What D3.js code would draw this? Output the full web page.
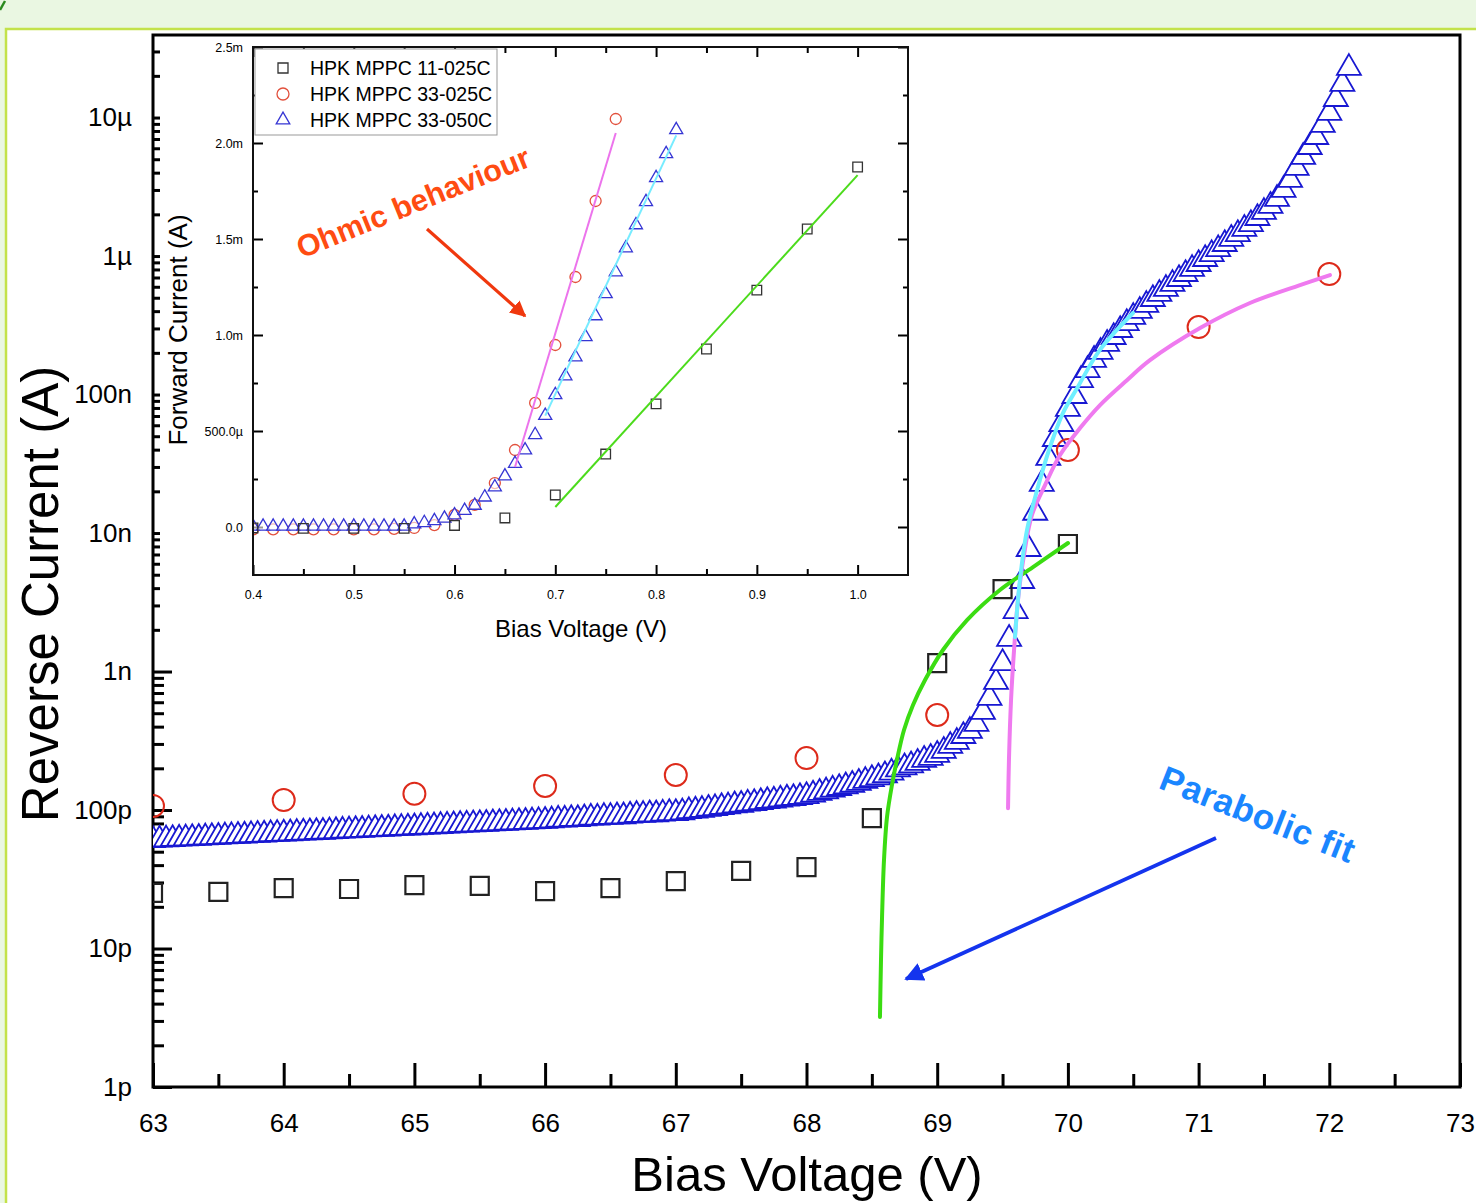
<!DOCTYPE html>
<html>
<head>
<meta charset="utf-8">
<script src="https://cdn.jsdelivr.net/npm/d3@7.9.0/dist/d3.min.js"></script>
<style>
  body { margin: 0; background: #fff; }
  svg { display: block; font-family: "Liberation Sans", Arial, sans-serif; }
</style>
</head>
<body>
<svg id="chart" width="1476" height="1203"></svg>
<script>
// ---------- main plot data (reverse bias) ----------
const sqVolts = [63, 63.5, 64, 64.5, 65, 65.5, 66, 66.5, 67, 67.5, 68, 68.5, 69, 69.5, 70];
const sqCurrent = [2.52e-11, 2.56e-11, 2.73e-11, 2.69e-11, 2.87e-11, 2.83e-11, 2.60e-11, 2.73e-11,
  3.07e-11, 3.63e-11, 3.87e-11, 8.75e-11, 1.15e-9, 3.94e-9, 8.33e-9];

const circVolts = [63, 64, 65, 66, 67, 68, 69, 70, 71, 72];
const circCurrent = [1.07e-10, 1.18e-10, 1.31e-10, 1.49e-10, 1.79e-10, 2.37e-10, 4.85e-10, 3.97e-8, 3.07e-7, 7.41e-7];

// 33-050C measured every 0.05 V from 63.00 V to 72.15 V
const triCurrent = [
  60.7e-12, 61.0e-12, 61.3e-12, 61.7e-12, 62.0e-12, 62.3e-12, 62.7e-12, 63.0e-12, 63.3e-12, 63.7e-12,
  64.0e-12, 64.4e-12, 64.7e-12, 65.0e-12, 65.4e-12, 65.7e-12, 66.1e-12, 66.4e-12, 66.8e-12, 67.1e-12,
  67.5e-12, 67.8e-12, 68.2e-12, 68.6e-12, 68.9e-12, 69.3e-12, 69.6e-12, 70.0e-12, 70.4e-12, 70.8e-12,
  71.1e-12, 71.5e-12, 71.9e-12, 72.3e-12, 72.7e-12, 73.1e-12, 73.4e-12, 73.8e-12, 74.2e-12, 74.6e-12,
  75.0e-12, 75.4e-12, 75.8e-12, 76.2e-12, 76.6e-12, 77.0e-12, 77.4e-12, 77.9e-12, 78.3e-12, 78.7e-12,
  79.1e-12, 79.5e-12, 80.0e-12, 80.4e-12, 80.8e-12, 81.3e-12, 81.7e-12, 82.1e-12, 82.6e-12, 83.0e-12,
  83.4e-12,
  84e-12, 85e-12, 85e-12, 86e-12, 86e-12, 87e-12, 88e-12, 88e-12, 89e-12, 89e-12,
  90e-12, 90e-12, 91e-12, 92e-12, 92e-12, 93e-12, 93e-12, 94e-12, 95e-12, 95e-12,
  96e-12, 98e-12, 99e-12, 100e-12, 102e-12, 103e-12, 105e-12, 106e-12, 108e-12, 109e-12,
  111e-12, 112e-12, 114e-12, 116e-12, 117e-12, 119e-12, 121e-12, 122e-12, 124e-12, 126e-12,
  129e-12, 133e-12, 136e-12, 140e-12, 144e-12, 148e-12, 152e-12, 157e-12, 162e-12, 167e-12,
  172e-12, 178e-12, 186e-12, 196e-12, 203e-12, 210e-12, 219e-12, 230e-12, 238e-12, 250e-12,
  267e-12, 290e-12, 310e-12, 342e-12, 372e-12, 418e-12, 510e-12, 644e-12, 840e-12, 1.15e-9,
  1.72e-9, 2.73e-9, 4.50e-9, 7.66e-9, 1.40e-8, 2.26e-8, 3.48e-8, 4.77e-8, 6.12e-8, 7.86e-8,
  9.75e-8, 1.27e-7, 1.50e-7, 1.78e-7, 2.03e-7, 2.32e-7, 2.60e-7, 2.92e-7, 3.28e-7, 3.63e-7,
  4.01e-7, 4.43e-7, 4.89e-7, 5.32e-7, 5.78e-7, 6.28e-7, 6.82e-7, 7.41e-7, 8.06e-7, 8.75e-7,
  9.51e-7, 1.03e-6, 1.12e-6, 1.22e-6, 1.33e-6, 1.44e-6, 1.57e-6, 1.70e-6, 1.88e-6, 2.08e-6,
  2.30e-6, 2.58e-6, 3.00e-6, 3.54e-6, 4.32e-6, 5.19e-6, 6.12e-6, 7.23e-6, 8.83e-6, 1.08e-5,
  1.36e-5, 1.75e-5, 2.28e-5
];
const triVolts = d3.range(triCurrent.length).map(i => +(63 + i * 0.05).toFixed(2));

// parabolic fits, points [V, A]
const fitGreen = [[68.562, 3.2e-12], [68.570, 8.26e-12], [68.578, 1.69e-11], [68.593, 4.36e-11],
  [68.616, 8.9e-11], [68.654, 1.52e-10], [68.692, 2.3e-10], [68.746, 3.78e-10], [68.815, 5.73e-10],
  [68.907, 8.68e-10], [69.044, 1.43e-9], [69.228, 2.35e-9], [69.480, 3.88e-9], [69.733, 5.68e-9],
  [70.001, 8.47e-9]];
const fitPink = [[69.542, 1.03e-10], [69.549, 2.3e-10], [69.565, 6.23e-10], [69.588, 1.43e-9],
  [69.618, 3.28e-9], [69.664, 6.94e-9], [69.725, 1.35e-8], [69.825, 2.22e-8], [69.940, 3.66e-8],
  [70.093, 5.73e-8], [70.246, 8.40e-8], [70.452, 1.27e-7], [70.628, 1.77e-7], [71.011, 3.02e-7],
  [71.393, 4.58e-7], [71.776, 6.17e-7], [72.005, 7.29e-7]];
const fitCyan = [[69.595, 1.77e-9], [69.633, 4.58e-9], [69.687, 1.05e-8], [69.764, 2.04e-8],
  [69.863, 4.18e-8], [69.962, 7.35e-8], [70.070, 1.11e-7], [70.245, 2.10e-7], [70.498, 3.88e-7]];

const xMajor = [63, 64, 65, 66, 67, 68, 69, 70, 71, 72, 73];
const xMinor = [63.5, 64.5, 65.5, 66.5, 67.5, 68.5, 69.5, 70.5, 71.5, 72.5];
const yMajor = [1e-12, 1e-11, 1e-10, 1e-9, 1e-8, 1e-7, 1e-6, 1e-5];
const yLabels = ['1p', '10p', '100p', '1n', '10n', '100n', '1µ', '10µ'];

// ---------- inset data (forward bias, mA) ----------
const inSqVolts = [0.40, 0.45, 0.50, 0.55, 0.60, 0.65, 0.70, 0.75, 0.80, 0.85, 0.90, 0.95, 1.00];
const inSqmA = [-0.005, -0.007, -0.007, -0.007, 0.008, 0.047, 0.167, 0.380, 0.641, 0.927, 1.234, 1.552, 1.875];

const inCircVolts = [0.40, 0.42, 0.44, 0.46, 0.48, 0.50, 0.52, 0.54, 0.56, 0.58, 0.60, 0.62, 0.64, 0.66,
  0.68, 0.70, 0.72, 0.74, 0.76];
const inCircmA = [-0.012, -0.012, -0.012, -0.012, -0.012, -0.012, -0.012, -0.010, -0.005, 0.010, 0.063,
  0.115, 0.229, 0.401, 0.646, 0.948, 1.302, 1.698, 2.125];

const inTriVolts = [0.40, 0.41, 0.42, 0.43, 0.44, 0.45, 0.46, 0.47, 0.48, 0.49, 0.50, 0.51, 0.52, 0.53,
  0.54, 0.55, 0.56, 0.57, 0.58, 0.59, 0.60, 0.61, 0.62, 0.63, 0.64, 0.65, 0.66, 0.67, 0.68, 0.69, 0.70,
  0.71, 0.72, 0.73, 0.74, 0.75, 0.76, 0.77, 0.78, 0.79, 0.80, 0.81, 0.82];
const inTrimA = [0.003, 0.003, 0.003, 0.003, 0.003, 0.003, 0.003, 0.003, 0.003, 0.003, 0.003, 0.003,
  0.003, 0.003, 0.003, 0.003, 0.015, 0.022, 0.032, 0.045, 0.062, 0.085, 0.112, 0.155, 0.208, 0.265,
  0.330, 0.400, 0.480, 0.580, 0.688, 0.786, 0.885, 0.990, 1.099, 1.214, 1.328, 1.453, 1.573, 1.693,
  1.818, 1.943, 2.068];

const inFitPink = [[0.66, 0.3125], [0.76, 2.052]];
const inFitCyan = [[0.69, 0.58], [0.82, 2.04]];
const inFitGreen = [[0.70, 0.104], [1.00, 1.833]];

const inXMajor = [0.4, 0.5, 0.6, 0.7, 0.8, 0.9, 1.0];
const inXMinor = [0.45, 0.55, 0.65, 0.75, 0.85, 0.95];
const inYMajor = [0, 0.5, 1.0, 1.5, 2.0, 2.5];
const inYMinor = [0.25, 0.75, 1.25, 1.75, 2.25];
const inYLabels = ['0.0', '500.0µ', '1.0m', '1.5m', '2.0m', '2.5m'];

const legendNames = ['HPK MPPC 11-025C', 'HPK MPPC 33-025C', 'HPK MPPC 33-050C'];

// ---------- drawing ----------
const svg = d3.select('#chart');

// slide frame
svg.append('rect').attr('x', 0).attr('y', 0).attr('width', 1476).attr('height', 28).attr('fill', '#eaf7e2');
svg.append('rect').attr('x', 0).attr('y', 0).attr('width', 5).attr('height', 1203).attr('fill', '#eaf7e2');
svg.append('path').attr('d', 'M6,1203V29H1476').attr('fill', 'none')
  .attr('stroke', '#c3e24a').attr('stroke-width', 2.5);
svg.append('path').attr('d', 'M0,10L5,1').attr('stroke', '#2b8a1e').attr('stroke-width', 2.5);

const L = 153, R = 1460, T = 35, B = 1087;
const x = d3.scaleLinear().domain([63, 73]).range([L, R]);
const y = d3.scaleLog().domain([1e-12, 3.945e-5]).range([B, T]);

const defs = svg.append('defs');
defs.append('clipPath').attr('id', 'mainClip')
  .append('rect').attr('x', L).attr('y', T).attr('width', R - L).attr('height', B - T);

function styleAxis(g, size, width) {
  g.select('.domain').remove();
  g.selectAll('line').attr('stroke', '#000').attr('stroke-width', width);
  g.selectAll('text').attr('font-size', size).attr('fill', '#000')
    .attr('font-family', '"Liberation Sans", Arial, sans-serif');
}

// main x axis
const gxMin = svg.append('g').attr('transform', `translate(0,${B})`)
  .call(d3.axisBottom(x).tickValues(xMinor).tickSize(-13).tickFormat(''));
styleAxis(gxMin, 26, 3);
const gx = svg.append('g').attr('transform', `translate(0,${B})`)
  .call(d3.axisBottom(x).tickValues(xMajor).tickSize(-24).tickPadding(27).tickFormat(d3.format('d')));
styleAxis(gx, 26, 3);

// main y axis
const yMinor = [];
for (let e = -12; e <= -5; e++) for (let k = 2; k <= 9; k++) {
  const v = k * Math.pow(10, e);
  if (v < y.domain()[1]) yMinor.push(v);
}
const gyMin = svg.append('g').attr('transform', `translate(${L},0)`)
  .call(d3.axisLeft(y).tickValues(yMinor).tickSize(-11).tickFormat(''));
styleAxis(gyMin, 26, 3);
const gy = svg.append('g').attr('transform', `translate(${L},0)`)
  .call(d3.axisLeft(y).tickValues(yMajor).tickSize(-19).tickPadding(21).tickFormat((d, i) => yLabels[i]));
styleAxis(gy, 26, 3);

svg.append('rect').attr('x', L).attr('y', T).attr('width', R - L).attr('height', B - T)
  .attr('fill', 'none').attr('stroke', '#000').attr('stroke-width', 3);

// axis titles
svg.append('text').attr('x', 807).attr('y', 1191).attr('text-anchor', 'middle')
  .attr('font-size', 49).text('Bias Voltage (V)');
svg.append('text').attr('transform', 'translate(58,594) rotate(-90)').attr('text-anchor', 'middle')
  .attr('font-size', 51).text('Reverse Current (A)');

// main markers (open symbols with white fill; later points drawn on top)
const plot = svg.append('g').attr('clip-path', 'url(#mainClip)');
const triSym = d3.symbol().type(d3.symbolTriangle).size(250)();
const sqSym = d3.symbol().type(d3.symbolSquare).size(324)();

plot.append('g').selectAll('path').data(triVolts.map((v, i) => [v, triCurrent[i]])).join('path')
  .attr('d', triSym).attr('transform', d => `translate(${x(d[0])},${y(d[1])})`)
  .attr('fill', '#fff').attr('stroke', '#1818d2').attr('stroke-width', 1.8);
plot.append('g').selectAll('circle').data(circVolts.map((v, i) => [v, circCurrent[i]])).join('circle')
  .attr('cx', d => x(d[0])).attr('cy', d => y(d[1])).attr('r', 11)
  .attr('fill', 'none').attr('stroke', '#dd2a1a').attr('stroke-width', 2);
plot.append('g').selectAll('path').data(sqVolts.map((v, i) => [v, sqCurrent[i]])).join('path')
  .attr('d', sqSym).attr('transform', d => `translate(${x(d[0])},${y(d[1])})`)
  .attr('fill', 'none').attr('stroke', '#222').attr('stroke-width', 2.2);

const fitLine = d3.line().x(d => x(d[0])).y(d => y(d[1])).curve(d3.curveCatmullRom.alpha(0.5));
[[fitGreen, '#3bdc12'], [fitPink, '#ef7aef'], [fitCyan, '#6eefff']].forEach(([pts, c]) => {
  plot.append('path').attr('d', fitLine(pts)).attr('fill', 'none').attr('stroke', c)
    .attr('stroke-width', 4).attr('stroke-linecap', 'round');
});

// ---------- inset ----------
const iL = 253, iR = 908, iT = 47, iB = 575;
svg.append('rect').attr('x', 160).attr('y', 38).attr('width', 752).attr('height', 607).attr('fill', '#fff');

const ix = d3.scaleLinear().domain([0.4, 1.05]).range([iL, iR]);
const iy = d3.scaleLinear().domain([-0.25, 2.5]).range([iB, iT]);

defs.append('clipPath').attr('id', 'insetClip')
  .append('rect').attr('x', iL).attr('y', iT).attr('width', iR - iL).attr('height', iB - iT);

const ibMin = svg.append('g').attr('transform', `translate(0,${iB})`)
  .call(d3.axisBottom(ix).tickValues(inXMinor).tickSize(-6).tickFormat(''));
styleAxis(ibMin, 12.5, 2);
const ib = svg.append('g').attr('transform', `translate(0,${iB})`)
  .call(d3.axisBottom(ix).tickValues(inXMajor).tickSize(-10).tickPadding(15).tickFormat(d3.format('.1f')));
styleAxis(ib, 12.5, 2);
const itMin = svg.append('g').attr('transform', `translate(0,${iT})`)
  .call(d3.axisTop(ix).tickValues(inXMinor).tickSize(-6).tickFormat(''));
styleAxis(itMin, 12.5, 2);
const it = svg.append('g').attr('transform', `translate(0,${iT})`)
  .call(d3.axisTop(ix).tickValues(inXMajor).tickSize(-10).tickFormat(''));
styleAxis(it, 12.5, 2);

const ilMin = svg.append('g').attr('transform', `translate(${iL},0)`)
  .call(d3.axisLeft(iy).tickValues(inYMinor).tickSize(-5).tickFormat(''));
styleAxis(ilMin, 12.5, 2);
const il = svg.append('g').attr('transform', `translate(${iL},0)`)
  .call(d3.axisLeft(iy).tickValues(inYMajor).tickSize(-10).tickPadding(10).tickFormat((d, i) => inYLabels[i]));
styleAxis(il, 12.5, 2);
const irMin = svg.append('g').attr('transform', `translate(${iR},0)`)
  .call(d3.axisRight(iy).tickValues(inYMinor).tickSize(-5).tickFormat(''));
styleAxis(irMin, 12.5, 2);
const ir = svg.append('g').attr('transform', `translate(${iR},0)`)
  .call(d3.axisRight(iy).tickValues(inYMajor).tickSize(-10).tickFormat(''));
styleAxis(ir, 12.5, 2);

svg.append('text').attr('x', 581).attr('y', 637).attr('text-anchor', 'middle')
  .attr('font-size', 24).text('Bias Voltage (V)');
svg.append('text').attr('transform', 'translate(187,330) rotate(-90)').attr('text-anchor', 'middle')
  .attr('font-size', 26).text('Forward Current (A)');

const inPlot = svg.append('g').attr('clip-path', 'url(#insetClip)');
const inTriSym = d3.symbol().type(d3.symbolTriangle).size(74)();
const inSqSym = d3.symbol().type(d3.symbolSquare).size(92)();

const inLine = d3.line().x(d => ix(d[0])).y(d => iy(d[1]));
inPlot.append('g').selectAll('circle').data(inCircVolts.map((v, i) => [v, inCircmA[i]])).join('circle')
  .attr('cx', d => ix(d[0])).attr('cy', d => iy(d[1])).attr('r', 5.5)
  .attr('fill', 'none').attr('stroke', '#e2503c').attr('stroke-width', 1.3);
inPlot.append('g').selectAll('path').data(inTriVolts.map((v, i) => [v, inTrimA[i]])).join('path')
  .attr('d', inTriSym).attr('transform', d => `translate(${ix(d[0])},${iy(d[1])})`)
  .attr('fill', '#fff').attr('fill-opacity', 0.6).attr('stroke', '#3636d4').attr('stroke-width', 1.3);
inPlot.append('g').selectAll('path').data(inSqVolts.map((v, i) => [v, inSqmA[i]])).join('path')
  .attr('d', inSqSym).attr('transform', d => `translate(${ix(d[0])},${iy(d[1])})`)
  .attr('fill', 'none').attr('stroke', '#333').attr('stroke-width', 1.3);
[[inFitPink, '#ec74ec'], [inFitCyan, '#77ecff'], [inFitGreen, '#4cdb1c']].forEach(([pts, c]) => {
  inPlot.append('path').attr('d', inLine(pts)).attr('fill', 'none').attr('stroke', c).attr('stroke-width', 2);
});

svg.append('rect').attr('x', iL).attr('y', iT).attr('width', iR - iL).attr('height', iB - iT)
  .attr('fill', 'none').attr('stroke', '#111').attr('stroke-width', 2);

// legend
const lg = svg.append('g');
lg.append('rect').attr('x', 255).attr('y', 49).attr('width', 242).attr('height', 86)
  .attr('fill', '#fff').attr('stroke', '#999').attr('stroke-width', 1);
const legendSyms = [
  g => g.append('path').attr('d', d3.symbol().type(d3.symbolSquare).size(100)()).attr('stroke', '#333'),
  g => g.append('circle').attr('r', 6).attr('stroke', '#e2503c'),
  g => g.append('path').attr('d', d3.symbol().type(d3.symbolTriangle).size(80)()).attr('stroke', '#3636d4')
];
legendNames.forEach((name, i) => {
  const row = lg.append('g').attr('transform', `translate(283,${68 + i * 26})`);
  legendSyms[i](row).attr('fill', 'none').attr('stroke-width', 1.3);
  row.append('text').attr('x', 27).attr('y', 7).attr('font-size', 19.5).text(name);
});

// annotations
function arrowHead(id, color) {
  defs.append('marker').attr('id', id).attr('viewBox', '0 0 10 10').attr('refX', 9).attr('refY', 5)
    .attr('markerWidth', 5).attr('markerHeight', 5).attr('orient', 'auto')
    .append('path').attr('d', 'M0,0L10,5L0,10Z').attr('fill', color);
}
arrowHead('redHead', '#f0380e');
arrowHead('blueHead', '#1434ee');

svg.append('line').attr('x1', 427).attr('y1', 229).attr('x2', 525).attr('y2', 316)
  .attr('stroke', '#f0380e').attr('stroke-width', 3.2).attr('marker-end', 'url(#redHead)');
svg.append('text').attr('transform', 'translate(413,202) rotate(-22)').attr('text-anchor', 'middle')
  .attr('dominant-baseline', 'central').attr('font-size', 30.5).attr('font-weight', 'bold')
  .attr('fill', '#ff4c12').text('Ohmic behaviour');

svg.append('line').attr('x1', 1216).attr('y1', 838).attr('x2', 906).attr('y2', 979)
  .attr('stroke', '#1434ee').attr('stroke-width', 3.8).attr('marker-end', 'url(#blueHead)');
svg.append('text').attr('transform', 'translate(1258,814) rotate(21.5)').attr('text-anchor', 'middle')
  .attr('dominant-baseline', 'central').attr('font-size', 35).attr('font-weight', 'bold')
  .attr('letter-spacing', 0.5).attr('fill', '#1a86ff').text('Parabolic fit');
</script>
</body>
</html>
